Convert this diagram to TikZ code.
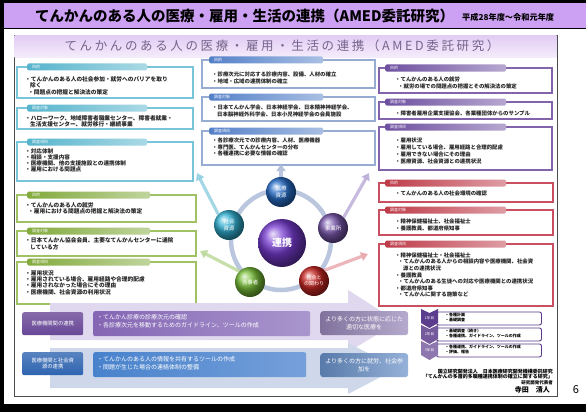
\documentclass[tikz,border=0pt]{standalone}
\usepackage{fontspec}
\setmainfont{Noto Sans CJK JP}
\usetikzlibrary{arrows.meta,shapes.geometric,shadings}
\definecolor{titlebar}{RGB}{204,160,242}
\definecolor{bandtop}{RGB}{226,204,244}
\definecolor{innertitle}{RGB}{120,100,140}
\definecolor{tealc}{RGB}{86,180,204}
\definecolor{teall}{RGB}{120,196,216}
\definecolor{greenc}{RGB}{130,170,60}
\definecolor{greenl}{RGB}{160,194,100}
\definecolor{bluec}{RGB}{84,128,200}
\definecolor{bluel}{RGB}{150,172,210}
\definecolor{purc}{RGB}{110,80,160}
\definecolor{purl}{RGB}{130,100,170}
\definecolor{redc}{RGB}{190,60,74}
\definecolor{redl}{RGB}{200,80,96}
\definecolor{ringc}{RGB}{185,198,222}
\definecolor{lab1}{RGB}{104,70,150}
\definecolor{band1a}{RGB}{132,102,180}
\definecolor{band1b}{RGB}{170,150,206}
\definecolor{res1}{RGB}{150,134,184}
\definecolor{arr1}{RGB}{224,216,238}
\definecolor{lab2}{RGB}{46,100,176}
\definecolor{band2a}{RGB}{72,130,204}
\definecolor{band2b}{RGB}{118,160,218}
\definecolor{res2}{RGB}{104,144,200}
\definecolor{arr2}{RGB}{206,216,234}
\definecolor{chev}{RGB}{92,60,140}
\definecolor{ballblue}{RGB}{40,110,200}
\definecolor{ballpur}{RGB}{120,86,170}
\definecolor{ballred}{RGB}{200,40,36}
\definecolor{ballgreen}{RGB}{120,190,56}
\definecolor{ballcyan}{RGB}{50,176,210}
\definecolor{ballvio}{RGB}{120,60,210}
\definecolor{arrteal}{RGB}{140,206,224}
\definecolor{arrtop}{RGB}{170,186,214}
\definecolor{arrpur}{RGB}{184,170,216}
\definecolor{arrgreen}{RGB}{184,216,150}
\definecolor{arrred}{RGB}{232,164,170}
\tikzset{
  boxline/.style={draw=#1, line width=1.3pt},
  hdr/.style={anchor=west, minimum height=7pt, inner xsep=5pt, inner ysep=0pt,
    rounded corners=1.5pt, text=white, font=\fontsize{4}{4}\selectfont, align=left,
    left color=#1, right color=#1!50!white},
  txtL/.style={anchor=north west, align=left, inner sep=0pt, text=black!85,
    font=\fontsize{5.7}{6.4}\selectfont\bfseries},
  txtM/.style={anchor=north west, align=left, inner sep=0pt, text=black!85,
    font=\fontsize{5.4}{6.3}\selectfont\bfseries},
  ballnode/.style={circle, minimum size=30pt, inner sep=0pt, ball color=#1,
    text=white, font=\fontsize{5.5}{6.5}\selectfont, align=center},
  ringarrow/.style={draw=#1, line width=3.2pt, -{Triangle[width=9pt,length=7pt]}, opacity=0.8},
  labbox/.style={rounded corners=2pt, text=white, font=\fontsize{5.3}{6.5}\selectfont,
    align=center, minimum width=61pt, minimum height=23pt, inner sep=1pt, anchor=north west},
  bandbox/.style={rounded corners=2pt, anchor=north west, minimum height=25pt},
  bandtxt/.style={anchor=north west, align=left, inner sep=0pt, text=white,
    font=\fontsize{6}{8.5}\selectfont},
  resbox/.style={rounded corners=3pt, text=white, font=\fontsize{6}{7.5}\selectfont,
    align=center, minimum width=88pt, minimum height=24pt, inner sep=1pt, anchor=north west},
  yearbox/.style={draw=chev, line width=0.9pt, rounded corners=2pt, fill=white,
    anchor=north west, minimum width=105pt, minimum height=13pt, inner sep=0pt},
  yeartxt/.style={anchor=north west, align=left, inner sep=0pt, text=black,
    font=\fontsize{4}{5}\selectfont\bfseries},
  chevtxt/.style={text=white, font=\fontsize{3.6}{4}\selectfont, inner sep=0pt},
}
\begin{document}
\begin{tikzpicture}[x=1pt,y=-1pt]
\useasboundingbox (0,0) rectangle (586,412);
% outer frame
\fill[black] (0,0) rectangle (586,412);
\fill[white] (4,29) rectangle (586,404);
\fill[titlebar] (4,3) rectangle (586,28.3);
\node[anchor=west, inner sep=0pt, font=\fontsize{14.5}{15}\selectfont\bfseries] (maintitle) at (35,16) {てんかんのある人の医療・雇用・生活の連携（AMED委託研究）};
\node[anchor=west, inner sep=0pt, font=\fontsize{8.2}{9}\selectfont\bfseries] (subtitle) at (462,17) {平成28年度～令和元年度};
% inner frame
\draw[draw=black!70, line width=0.8pt, fill=white] (14,35) rectangle (557,396);
\shade[top color=bandtop, bottom color=bandtop!35!white] (14.5,35.5) rectangle (556.5,58);
\node[inner sep=0pt, text=innertitle, font=\fontsize{12.5}{13}\selectfont\addfontfeatures{LetterSpace=21}] (innertitle) at (282,46) {てんかんのある人の医療・雇用・生活の連携（AMED委託研究）};

% ===== left teal boxes
\draw[boxline=teall] (17,67) rectangle (193,98);
\node[hdr=tealc, text width=110pt] (t1h) at (27,67) {目的};
\node[txtL] (t1) at (25,76.5) {・てんかんのある人の社会参加・就労へのバリアを取り\\\hspace*{5pt}除く\\\hspace*{3pt}・問題点の把握と解決法の策定};
\draw[boxline=teall] (17,108) rectangle (193,129);
\node[hdr=tealc, text width=110pt] (t2h) at (27,108) {調査対象};
\node[txtL] (t2) at (25,115) {・ハローワーク、地域障害者職業センター、障害者就業・\\\hspace*{5pt}生活支援センター、就労移行・継続事業};
\draw[boxline=teall] (17,142) rectangle (193,181);
\node[hdr=tealc, text width=110pt] (t3h) at (27,142) {調査項目};
\node[txtL, font=\fontsize{5.6}{6}\selectfont\bfseries] (t3) at (25,149) {・対応体制\\・相談・支援内容\\・医療機関、他の支援施設との連携体制\\・雇用における問題点};

% ===== left green boxes
\draw[boxline=greenl] (17,195) rectangle (196,222);
\node[hdr=greenc, text width=113pt] (g1h) at (27,195) {目的};
\node[txtL] (g1) at (25,202) {・てんかんのある人の就労\\\hspace*{3pt}・雇用における問題点の把握と解決法の策定};
\draw[boxline=greenl] (17,231) rectangle (196,256);
\node[hdr=greenc, text width=113pt] (g2h) at (27,231) {調査対象};
\node[txtL] (g2) at (25,237.5) {・日本てんかん協会会員、主要なてんかんセンターに通院\\\hspace*{5pt}している方};
\draw[boxline=greenl] (17,262) rectangle (196,304);
\node[hdr=greenc, text width=113pt] (g3h) at (27,262) {調査項目};
\node[txtL] (g3) at (25,270) {・雇用状況\\・雇用されている場合、雇用経路や合理的配慮\\・雇用されなかった場合にその理由\\・医療機関、社会資源の利用状況};

% ===== middle blue boxes
\draw[boxline=bluel] (202,60) rectangle (375,88);
\node[hdr=bluec, text width=104pt] (b1h) at (209,60) {目的};
\node[txtM] (b1) at (212,72) {・診療次元に対応する診療内容、設備、人材の確立\\・地域・広域の連携体制の確立};
\draw[boxline=bluel] (202,97) rectangle (375,121);
\node[hdr=bluec, text width=104pt] (b2h) at (209,97) {調査対象};
\node[txtM] (b2) at (212,105) {・日本てんかん学会、日本神経学会、日本精神神経学会、\\\hspace*{5pt}日本脳神経外科学会、日本小児神経学会の会員施設};
\draw[boxline=bluel] (202,131) rectangle (375,165);
\node[hdr=bluec, text width=104pt] (b3h) at (209,131) {調査項目};
\node[txtM] (b3) at (212,138) {・各診療次元での診療内容、人材、医療機器\\・専門医、てんかんセンターの分布\\・各種連携に必要な情報の確認};

% ===== right purple boxes
\draw[boxline=purl] (379,68) rectangle (552,93);
\node[hdr=purc, text width=111pt] (p1h) at (385,68) {目的};
\node[txtM] (p1) at (395,77) {・てんかんのある人の就労\\\hspace*{3pt}・就労の場での問題点の把握とその解決法の策定};
\draw[boxline=purl] (379,102) rectangle (552,119);
\node[hdr=purc, text width=111pt] (p2h) at (385,102) {調査対象};
\node[txtM] (p2) at (395,110.5) {・障害者雇用企業支援協会、各業種団体からのサンプル};
\draw[boxline=purl] (379,127) rectangle (552,170);
\node[hdr=purc, text width=111pt] (p3h) at (385,127) {調査項目};
\node[txtM, font=\fontsize{5.4}{6.8}\selectfont\bfseries] (p3) at (395,138) {・雇用状況\\・雇用している場合、雇用経路と合理的配慮\\・雇用できない場合にその理由\\・医療資源、社会資源との連携状況};

% ===== right red boxes
\draw[boxline=redl] (379,183) rectangle (553,202);
\node[hdr=redc, text width=111pt] (r1h) at (385,183) {目的};
\node[txtM] (r1) at (395,191) {・てんかんのある人の社会環境の確認};
\draw[boxline=redl] (379,210) rectangle (553,235);
\node[hdr=redc, text width=111pt] (r2h) at (385,210) {調査対象};
\node[txtM] (r2) at (395,219) {・精神保健福祉士、社会福祉士\\・養護教員、都道府県知事};
\draw[boxline=redl] (379,244) rectangle (553,306);
\node[hdr=redc, text width=111pt] (r3h) at (385,244) {調査項目};
\node[txtM, font=\fontsize{5.4}{6.6}\selectfont\bfseries] (r3) at (395,252.5) {・精神保健福祉士・社会福祉士\\\hspace*{3pt}・てんかんのある人からの相談内容や医療機関、社会資\\\hspace*{8pt}源との連携状況\\・養護教員\\\hspace*{3pt}・てんかんのある生徒への対応や医療機関との連携状況\\・都道府県知事\\\hspace*{3pt}・てんかんに関する施策など};

% ===== center cycle
\coordinate (cc) at (281,240);
\draw[draw=ringc, line width=4.5pt] (cc) circle[radius=50];
\node[ballnode=ballblue] (iryo) at (281,192) {医療\\資源};
\node[ballnode=ballpur] (jigyo) at (333,228) {事業所};
\node[ballnode=ballred, font=\fontsize{5}{6}\selectfont] (shakai) at (314,281) {社会と\\の関わり};
\node[ballnode=ballgreen] (tojisha) at (250,282) {当事者};
\node[ballnode=ballcyan] (shigen) at (229,225) {社会\\資源};
\node[ballnode=ballvio, minimum size=48pt, font=\fontsize{10}{11}\selectfont\bfseries] (renkei) at (282,243) {連携};
\coordinate (a1) at (197,173);
\coordinate (a2) at (281,164);
\coordinate (a3) at (369,173);
\coordinate (a4) at (200,251);
\coordinate (a5) at (368,254);
\draw[ringarrow=arrteal] (shigen.north west) -- (a1);
\draw[ringarrow=arrtop] (iryo.north) -- (a2);
\draw[ringarrow=arrpur] (jigyo.north east) -- (a3);
\draw[ringarrow=arrgreen] (tojisha.north west) -- (a4);
\draw[ringarrow=arrred] (shakai.north east) -- (a5);

% ===== bottom bands
\fill[arr1] (50,303) -- (348,303) -- (348,290) -- (398,322) -- (348,352) -- (348,340) -- (50,340) -- cycle;
\fill[arr2] (50,348) -- (348,348) -- (348,343) -- (398,368) -- (348,394) -- (348,388) -- (50,388) -- cycle;
\node[bandbox, minimum width=217pt, left color=band1a, right color=band1b] (band1) at (93,311) {};
\node[labbox, top color=lab1!80!white, bottom color=lab1] (lab1n) at (22,312) {医療機関間の連携};
\node[bandtxt] (band1t) at (97,314) {・てんかん診療の診療次元の確認\\・各診療次元を移動するためのガイドライン、ツールの作成};
\node[resbox, left color=res1!85!black, right color=res1!70!white] (res1n) at (320,311) {より多くの方に状態に応じた\\適切な医療を};
\node[bandbox, minimum width=213pt, left color=band2a, right color=band2b] (band2) at (93,352) {};
\node[labbox, top color=lab2!80!white, bottom color=lab2] (lab2n) at (22,352) {医療機関と社会資\\源の連携};
\node[bandtxt] (band2t) at (97,356) {・てんかんのある人の情報を共有するツールの作成\\・問題が生じた場合の連絡体制の整備};
\node[resbox, left color=res2!85!black, right color=res2!70!white] (res2n) at (320,353) {より多くの方に就労、社会参\\加を};

% ===== timeline
\node[yearbox] (y1) at (436,311.5) {};
\node[yearbox] (y2) at (436,327.5) {};
\node[yearbox] (y3) at (436,343.5) {};
\fill[chev] (421,309) -- (429.5,313) -- (438,309) -- (438,323) -- (429.5,328) -- (421,323) -- cycle;
\fill[chev!85!white] (421,325) -- (429.5,329) -- (438,325) -- (438,339) -- (429.5,344) -- (421,339) -- cycle;
\fill[chev!70!white] (421,341) -- (429.5,345) -- (438,341) -- (438,355) -- (429.5,360) -- (421,355) -- cycle;
\node[chevtxt] (c1) at (429.5,318) {1年目};
\node[chevtxt] (c2) at (429.5,334) {2年目};
\node[chevtxt] (c3) at (429.5,350) {3年目};
\node[yeartxt] (y1t) at (445,313) {・各種計画\\・基礎調査};
\node[yeartxt] (y2t) at (445,329) {・基礎調査（続き）\\・各種連携、ガイドライン、ツールの作成};
\node[yeartxt] (y3t) at (445,345) {・各種連携、ガイドライン、ツールの作成\\・評価、報告};

% ===== credits
\node[anchor=north east, align=right, inner sep=0pt, font=\fontsize{5}{5.3}\selectfont\bfseries] (credit) at (553,369) {国立研究開発法人　日本医療研究開発機構委託研究\\「てんかんの多層的多職種連携体制の確立に関する研究」\\{\fontsize{4.5}{5.3}\selectfont 研究開発代表者}\\[0.5pt]{\fontsize{7}{7}\selectfont 寺田　清人\hspace*{3pt}}};
\node[inner sep=0pt, font=\fontsize{11}{11}\selectfont] (pagenum) at (576,390) {6};
\end{tikzpicture}
\end{document}
